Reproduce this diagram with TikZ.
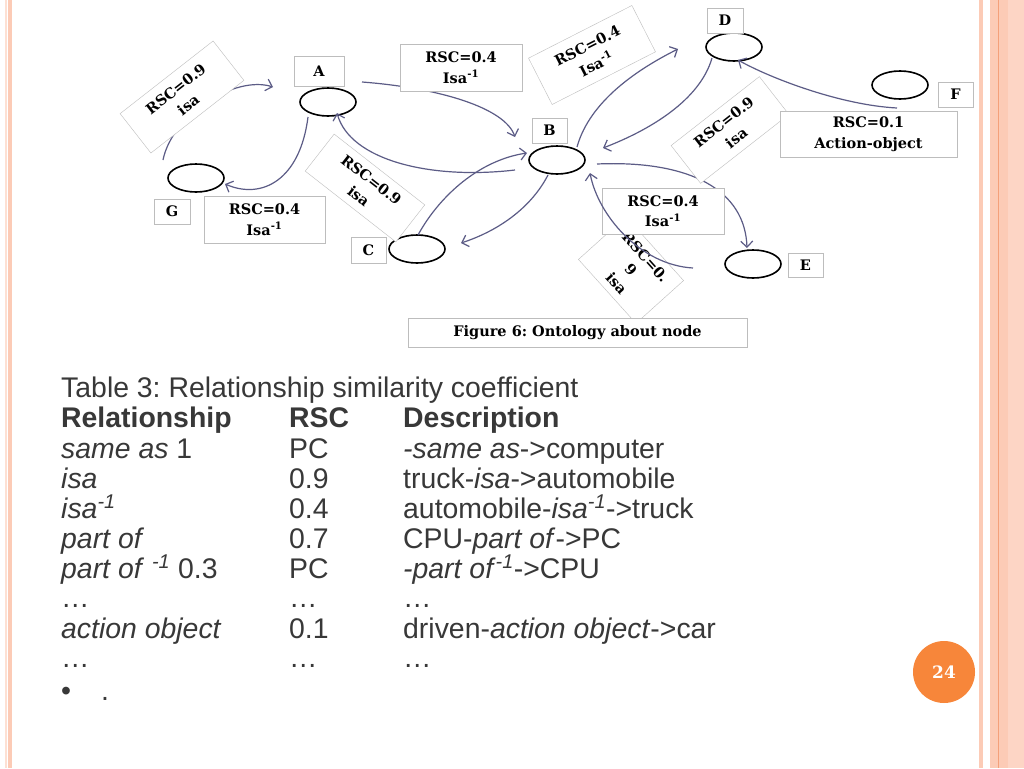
\documentclass[tikz,border=0pt]{standalone}
\usepackage{fontspec}
\setmainfont{DejaVu Serif}
\setsansfont{Liberation Sans}
\usetikzlibrary{shapes.geometric,arrows.meta,calc}
\definecolor{edge}{HTML}{5C5C86}
\definecolor{boxline}{HTML}{BDBDBD}
\definecolor{peach}{HTML}{FCCBB6}
\definecolor{peachdark}{HTML}{F4A07A}
\definecolor{pagecirc}{HTML}{F7863A}
\definecolor{tabtext}{HTML}{383838}
\frenchspacing
\begin{document}
\begin{tikzpicture}[x=1pt,y=-1pt,
 ont/.style={ellipse,draw,line width=1.6pt,minimum width=56pt,minimum height=28pt,inner sep=0},
 lab/.style={draw=boxline,fill=white,inner sep=0,font=\fontsize{14.5}{14.5}\selectfont\bfseries},
 rsc/.style={lab,align=center,font=\fontsize{14.5}{18.5}\selectfont\bfseries},
 rel/.style={draw=edge,line width=1.2pt,-{Straight Barb[length=6pt,width=12pt]}},
 row/.style={anchor=base west,inner sep=0,text=tabtext,font=\fontsize{28.4}{28.4}\selectfont\sffamily}]
 \useasboundingbox[fill=white](0,0) rectangle (1024,768);
 % slide borders
 \fill[peach!60](5,0) rectangle (7,768);
 \fill[peach](8,0) rectangle (12,768);
 \fill[peach](979,0) rectangle (983,768);
 \fill[peach](990,0) rectangle (998,768);
 \fill[peachdark](998,0) rectangle (999,768);
 \fill[peach](999,0) rectangle (1008,768);
 \fill[peach!80](1008,0) rectangle (1024,768);
 % concepts
 \node[ont](A) at (328,102){};
 \node[ont](G) at (196,178){};
 \node[ont](C) at (417,249){};
 \node[ont](B) at (557,160){};
 \node[ont](D) at (734,47){};
 \node[ont](F) at (900,85){};
 \node[ont](E) at (753,264){};
 % relations
 \draw[rel]($(G)+(-33,-18)$)..controls($(G)+(-24,-63)$)and($(A)+(-93,-27)$)..($(A)+(-55,-15)$);
 \draw[rel]($(A)+(-20,15)$)..controls($(A)+(-28,78)$)and($(G)+(66,22)$)..($(G)+(29,6)$);
 \draw[rel]($(A)+(34,-20)$)..controls($(A)+(112,-14)$)and($(B)+(-52,-52)$)..($(B)+(-42,-23)$);
 \draw[rel]($(B)+(-42,10)$)..controls($(B)+(-127,20)$)and($(A)+(22,58)$)..($(A)+(9,11)$);
 \draw[rel]($(C)+(1,-14)$)..controls($(C)+(23,-54)$)and($(B)+(-77,0)$)..($(B)+(-30,-7)$);
 \draw[rel]($(B)+(-9,15)$)..controls($(B)+(-27,50)$)and($(C)+(78,-17)$)..($(C)+(44,-6)$);
 \draw[rel]($(B)+(20,-13)$)..controls($(B)+(33,-60)$)and($(D)+(-94,21)$)..($(D)+(-56,2)$);
 \draw[rel]($(D)+(-22,11)$)..controls($(D)+(-34,53)$)and($(B)+(93,-30)$)..($(B)+(46,-12)$);
 \draw[rel]($(F)+(-3,23)$)..controls($(F)+(-60,20)$)and($(D)+(36,31)$)..($(D)+(4,13)$);
 \draw[rel]($(B)+(40,4)$)..controls($(B)+(133,0)$)and($(E)+(-8,-74)$)..($(E)+(-6,-16)$);
 % letters
 \node[lab,minimum width=50pt,minimum height=30pt](lA) at (319,71){A\hspace{12pt}};
 \node[lab,minimum width=36pt,minimum height=25pt](lG) at (172,211.5){G};
 \node[lab,minimum width=35pt,minimum height=26pt](lC) at (368.5,250){C};
 \node[lab,minimum width=35pt,minimum height=25pt](lB) at (549.5,130.5){B};
 \node[lab,minimum width=36pt,minimum height=25pt](lD) at (725,20.5){D};
 \node[lab,minimum width=35pt,minimum height=25pt](lF) at (955.5,94.5){F};
 \node[lab,minimum width=35pt,minimum height=24pt](lE) at (805.5,265){E};
 % coefficients
 \node[rsc,rotate=38,minimum width=118pt,minimum height=50pt](r1) at (182,97){RSC=0.9\\[2pt]isa};
 \node[rsc,rotate=27,minimum width=116pt,minimum height=52pt](r2) at (592,55){RSC=0.4\\[2pt]Isa\textsuperscript{-1}};
 \node[rsc,rotate=-38,minimum width=115pt,minimum height=47pt](r3) at (365,188){RSC=0.9\\[2pt]isa};
 \node[rsc,rotate=38,minimum width=112pt,minimum height=48pt](r4) at (730,130){RSC=0.9\\[2pt]isa};
 \node[rsc,rotate=-48,minimum width=86pt,minimum height=64pt](r5) at (631,270){RSC=0.\\[1pt]9\\[1pt]isa};
 \node[rsc,minimum width=121pt,minimum height=47pt](s1) at (264.5,219.5){RSC=0.4\\[2pt]Isa\textsuperscript{-1}};
 \node[rsc,minimum width=122pt,minimum height=47pt](s2) at (461,67.5){RSC=0.4\\[2pt]Isa\textsuperscript{-1}};
 \node[rsc,minimum width=122pt,minimum height=46pt](s3) at (663,211){RSC=0.4\\[2pt]Isa\textsuperscript{-1}};
 \node[rsc,minimum width=177pt,minimum height=46pt](s4) at (868.5,134){RSC=0.1\\[2pt]Action-object};
 \draw[rel]($(E)+(-60,4)$)..controls($(E)+(-113,1)$)and($(B)+(41,55)$)..($(B)+(33,13)$);
 \node[lab,minimum width=339pt,minimum height=29pt](cap) at (577.5,332.5){Figure 6: Ontology about node};
 % table
 \node[row](t0) at (61,397){Table 3: Relationship similarity coefficient};
 \node[row,font=\fontsize{28.4}{28.4}\selectfont\sffamily\bfseries](h1) at (61,427){Relationship};
 \node[row,font=\fontsize{28.4}{28.4}\selectfont\sffamily\bfseries](h2) at (289,427){RSC};
 \node[row,font=\fontsize{28.4}{28.4}\selectfont\sffamily\bfseries](h3) at (403,427){Description};
 \foreach \yy/\ca/\cb/\cc in {
   458/{\textit{same as} 1}/PC/{\textit{-same as}->computer},
   488/{\textit{isa}}/0.9/{truck-\textit{isa}->automobile},
   518/{\textit{isa}\textsuperscript{\textit{-1}}}/0.4/{automobile-\textit{isa}\textsuperscript{\textit{-1}}->truck},
   548/{\textit{part of}}/0.7/{CPU-\textit{part of}->PC},
   578/{\textit{part of} \textsuperscript{\textit{-1}} 0.3}/PC/{\textit{-part of}\textsuperscript{\textit{-1}}->CPU},
   607/{\dots}/{\dots}/{\dots},
   638/{\textit{action object}}/0.1/{driven-\textit{action object}->car},
   667/{\dots}/{\dots}/{\dots}}
 {
   \node[row] at (61,\yy){\ca};
   \node[row] at (289,\yy){\cb};
   \node[row] at (403,\yy){\cc};
 }
 \node[row](bul) at (61,700){\textbullet\hspace{30pt}.};
 % page number
 \node[circle,fill=pagecirc,minimum size=62pt,text=white,font=\fontsize{17}{17}\selectfont\bfseries](pg) at (944,672){24};
\end{tikzpicture}
\end{document}
